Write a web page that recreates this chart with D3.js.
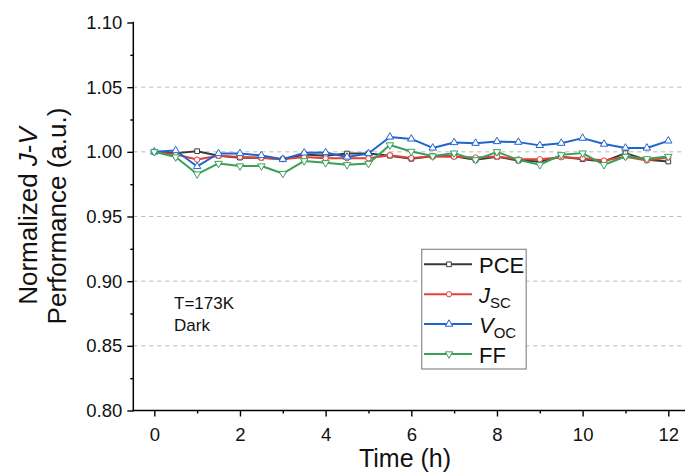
<!DOCTYPE html>
<html>
<head>
<meta charset="utf-8">
<script src="https://cdn.jsdelivr.net/npm/d3@7"></script>
<style>
  body { margin: 0; background: #fff; }
  svg { font-family: "Liberation Sans", Arial, sans-serif; }
</style>
</head>
<body>
<div id="chart"></div>
<script>
// Data (time in hours, normalized values)
const times = [0, 0.5, 1, 1.5, 2, 2.5, 3, 3.5, 4, 4.5, 5, 5.5, 6, 6.5, 7, 7.5, 8, 8.5, 9, 9.5, 10, 10.5, 11, 11.5, 12];
const pce = [1.000, 0.999, 1.0005, 0.997, 0.9955, 0.9955, 0.9943, 0.998, 0.997, 0.9987, 0.9987, 0.997, 0.9946, 0.9965, 0.9965, 0.9938, 0.9962, 0.9933, 0.9925, 0.9962, 0.9943, 0.9925, 0.999, 0.9938, 0.9925];
const jsc = [1.000, 0.998, 0.994, 0.997, 0.996, 0.9955, 0.9943, 0.996, 0.995, 0.995, 0.995, 0.9974, 0.9952, 0.9965, 0.9962, 0.9956, 0.9964, 0.9942, 0.9943, 0.9958, 0.995, 0.9933, 0.9962, 0.9933, 0.9956];
const voc = [1.000, 1.001, 0.9887, 0.9987, 0.9987, 0.9972, 0.9943, 0.9992, 0.9995, 0.996, 0.9987, 1.0115, 1.0100, 1.003, 1.0072, 1.0067, 1.0080, 1.0075, 1.0050, 1.0067, 1.0106, 1.006, 1.003, 1.003, 1.0085];
const ff = [1.000, 0.996, 0.9828, 0.991, 0.989, 0.989, 0.9832, 0.993, 0.9915, 0.990, 0.991, 1.0053, 1.0003, 0.9967, 0.999, 0.9938, 1.000, 0.9938, 0.990, 0.9977, 0.999, 0.990, 0.9964, 0.9946, 0.9964];

const xTicks = [0, 2, 4, 6, 8, 10, 12];
const xMinor = [1, 3, 5, 7, 9, 11];
const yTicks = [0.80, 0.85, 0.90, 0.95, 1.00, 1.05, 1.10];
const yMinor = [0.825, 0.875, 0.925, 0.975, 1.025, 1.075];
const gridValues = [0.85, 0.90, 0.95, 1.00, 1.05];

const series = [
  { name: "PCE", sub: "", italic: false, values: pce, color: "#3a3a3a", marker: "square" },
  { name: "J", sub: "SC", italic: true, values: jsc, color: "#e23f3b", marker: "circle" },
  { name: "V", sub: "OC", italic: true, values: voc, color: "#2064cf", marker: "triangleUp" },
  { name: "FF", sub: "", italic: false, values: ff, color: "#37a15a", marker: "triangleDown" }
];

// Dimensions
const w = 685, h = 474;
const axisLeft = 133.3, axisBottom = 410.5, axisTop = 22.5, axisRight = 685;

const svg = d3.select("#chart").append("svg").attr("width", w).attr("height", h);

// Scales
const x = d3.scaleLinear().domain([0, 12]).range([154.3, 668.3]);
const y = d3.scaleLinear().domain([0.80, 1.10]).range([axisBottom, axisTop]);

// Dashed grid
svg.append("g").selectAll("line").data(gridValues).enter().append("line")
  .attr("x1", axisLeft).attr("x2", axisRight)
  .attr("y1", d => y(d)).attr("y2", d => y(d))
  .attr("stroke", "#b8b8b8").attr("stroke-width", 1).attr("stroke-dasharray", "4,4");

// Axes
const yAxis = svg.append("g").attr("transform", `translate(${axisLeft},0)`)
  .call(d3.axisLeft(y).tickValues(yTicks).tickFormat(d3.format(".2f")).tickSize(6).tickPadding(5));
svg.append("g").attr("transform", `translate(${axisLeft},0)`)
  .call(d3.axisLeft(y).tickValues(yMinor).tickFormat("").tickSize(3));
const xAxis = svg.append("g").attr("transform", `translate(0,${axisBottom})`)
  .call(d3.axisBottom(x).tickValues(xTicks).tickFormat(d3.format("d")).tickSize(6).tickPadding(11));
svg.append("g").attr("transform", `translate(0,${axisBottom})`)
  .call(d3.axisBottom(x).tickValues(xMinor).tickFormat("").tickSize(3));

svg.selectAll(".domain").remove();
svg.selectAll(".tick line").attr("stroke", "#000").attr("stroke-width", 1.4);
svg.selectAll(".tick text").attr("font-size", 18.5).attr("fill", "#111").attr("font-family", "Liberation Sans, Arial, sans-serif");

// Axis lines
svg.append("line").attr("x1", axisLeft).attr("x2", axisLeft).attr("y1", axisTop - 0.7).attr("y2", axisBottom + 0.7)
  .attr("stroke", "#000").attr("stroke-width", 1.5);
svg.append("line").attr("x1", axisLeft - 0.7).attr("x2", axisRight).attr("y1", axisBottom).attr("y2", axisBottom)
  .attr("stroke", "#000").attr("stroke-width", 1.5);

// Marker shapes
const symbolFor = {
  square: d3.symbol().type(d3.symbolSquare).size(22),
  circle: d3.symbol().type(d3.symbolCircle).size(22),
  triangleUp: d3.symbol().type(d3.symbolTriangle).size(24),
  triangleDown: d3.symbol().type(d3.symbolTriangle).size(24)
};
function drawMarker(g, s, cx, cy) {
  g.append("path").attr("d", symbolFor[s.marker]())
    .attr("transform", `translate(${cx},${cy})` + (s.marker == "triangleDown" ? " rotate(180)" : ""))
    .attr("fill", "#fff").attr("stroke", s.color).attr("stroke-width", 1);
}

// Lines & markers
const line = d3.line().x((d, i) => x(times[i])).y(d => y(d));
series.forEach(s => {
  const g = svg.append("g");
  g.append("path").datum(s.values).attr("d", line)
    .attr("fill", "none").attr("stroke", s.color).attr("stroke-width", 2).attr("stroke-linejoin", "round");
  s.values.forEach((v, i) => drawMarker(g, s, x(times[i]), y(v)));
});

// Legend
const legend = svg.append("g");
legend.append("rect").attr("x", 421.7).attr("y", 249.3).attr("width", 104.5).attr("height", 119.7)
  .attr("fill", "#fff").attr("stroke", "#8a8a8a").attr("stroke-width", 1.2);
series.forEach((s, i) => {
  const ly = 264.3 + i * 29.9;
  const row = legend.append("g");
  row.append("line").attr("x1", 424).attr("x2", 472).attr("y1", ly).attr("y2", ly)
    .attr("stroke", s.color).attr("stroke-width", 2);
  drawMarker(row, s, 449, ly);
  const t = row.append("text").attr("x", 479).attr("y", ly + 8.5).attr("font-size", 22).attr("fill", "#111");
  t.append("tspan").text(s.name).attr("font-style", s.italic ? "italic" : "normal");
  if (s.sub) t.append("tspan").text(s.sub).attr("font-size", 15).attr("dy", 5);
});

// Annotation
svg.append("text").attr("x", 174).attr("y", 309).attr("font-size", 17).attr("fill", "#111").text("T=173K");
svg.append("text").attr("x", 174).attr("y", 331).attr("font-size", 17).attr("fill", "#111").text("Dark");

// Axis titles
svg.append("text").attr("x", 405).attr("y", 467).attr("text-anchor", "middle")
  .attr("font-size", 25).attr("fill", "#111").text("Time (h)");

const yTitle = svg.append("text").attr("transform", "translate(0,216) rotate(-90)")
  .attr("text-anchor", "middle").attr("font-size", 26).attr("fill", "#111");
const l1 = yTitle.append("tspan").attr("x", 0).attr("y", 37);
l1.append("tspan").text("Normalized ");
l1.append("tspan").text("J").attr("font-style", "italic");
l1.append("tspan").text("-");
l1.append("tspan").text("V").attr("font-style", "italic");
yTitle.append("tspan").attr("x", 0).attr("y", 66).text("Performance (a.u.)");
</script>
</body>
</html>
